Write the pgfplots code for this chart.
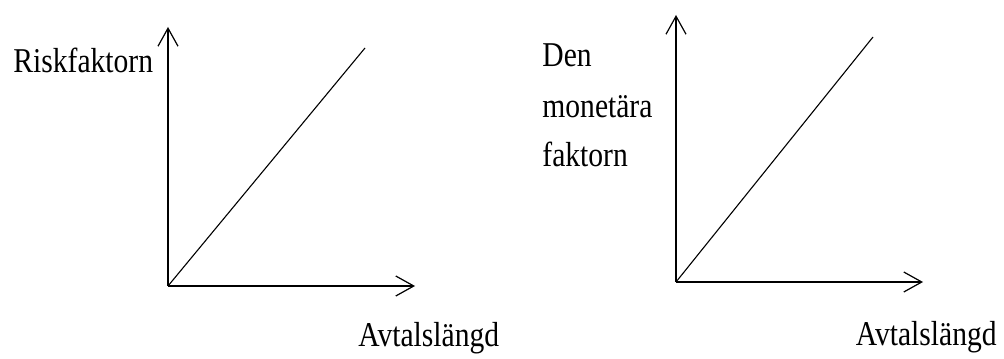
\documentclass[border=0pt]{standalone}
\usepackage{pgfplots}
\pgfplotsset{compat=1.18}
\usepackage{fontspec}
\setmainfont{Liberation Serif}
\usetikzlibrary{arrows.meta}
\newcommand{\lbl}[1]{\scalebox{0.85}[1]{\fontsize{17.4}{20}\selectfont #1}}
\begin{document}
\begin{tikzpicture}[x=0.5pt,y=0.5pt]
\path[use as bounding box] (0,0) rectangle (1004,358);
\begin{axis}[scale only axis,
    axis x line=bottom, axis y line=left,
    xtick=\empty, ytick=\empty,
    xmin=0, ymin=0, clip=false,
    axis line style={line width=1.1pt,-{Straight Barb[length=9pt,width=10pt,line width=0.6pt]}},
    at={(168,72)}, anchor=south west,
    width=123.5pt, height=129.5pt, xmax=247, ymax=259]
\addplot[black, line width=0.55pt] coordinates {(0,0) (197,238)};
\end{axis}
\begin{axis}[scale only axis,
    axis x line=bottom, axis y line=left,
    xtick=\empty, ytick=\empty,
    xmin=0, ymin=0, clip=false,
    axis line style={line width=1.1pt,-{Straight Barb[length=9pt,width=10pt,line width=0.6pt]}},
    at={(676,76)}, anchor=south west,
    width=123.5pt, height=133.5pt, xmax=247, ymax=267]
\addplot[black, line width=0.55pt] coordinates {(0,0) (197,245)};
\end{axis}
\node[anchor=base west, inner sep=0pt] at (13,285) {\lbl{Riskfaktorn}};
\node[anchor=base west, inner sep=0pt] at (358,11) {\lbl{Avtalslängd}};
\node[anchor=base west, inner sep=0pt] at (542,291) {\lbl{Den}};
\node[anchor=base west, inner sep=0pt] at (542,240) {\lbl{monetära}};
\node[anchor=base west, inner sep=0pt] at (542,191) {\lbl{faktorn}};
\node[anchor=base east, inner sep=0pt] at (997,12) {\lbl{Avtalslängd}};
\end{tikzpicture}
\end{document}
